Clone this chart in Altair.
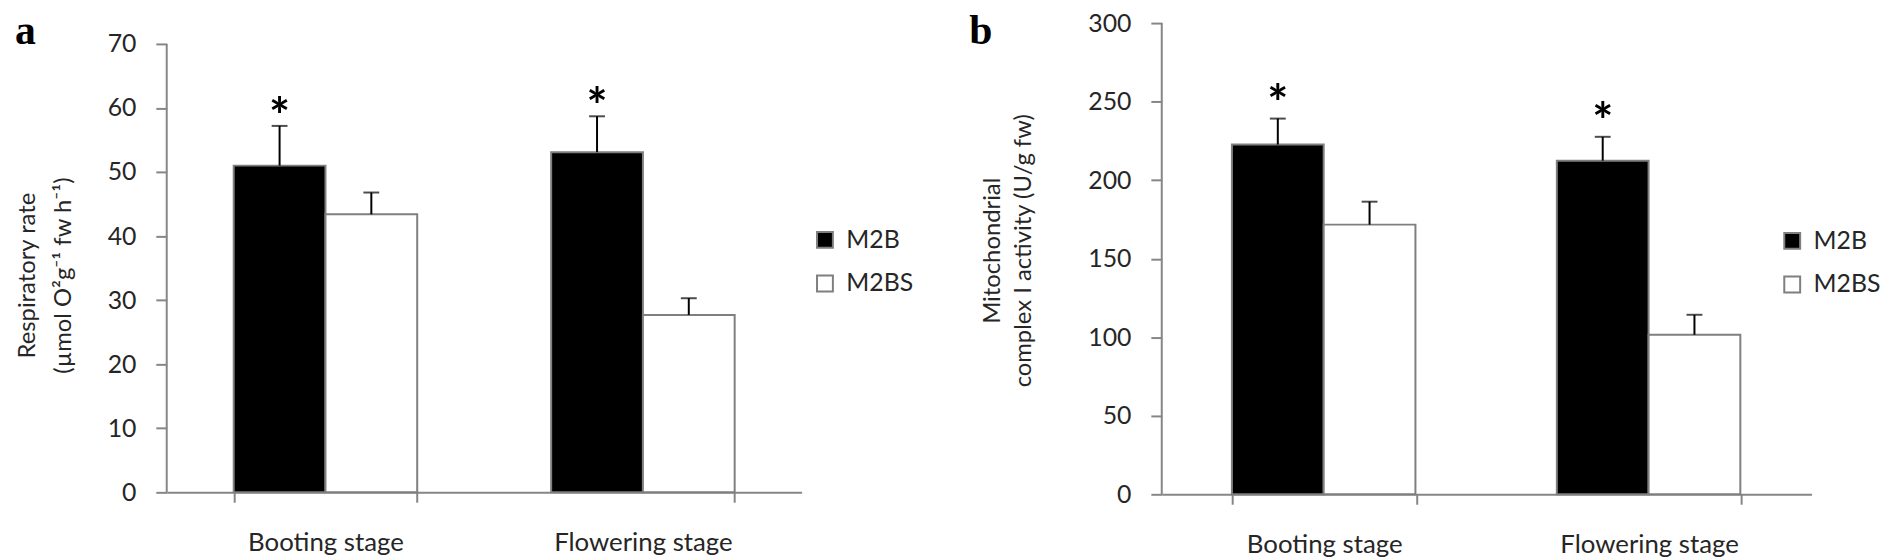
import altair as alt
import pandas as pd

# ---------------- data ----------------
stages = ["Booting stage", "Flowering stage"]
series = ["M2B", "M2BS"]
# order: Booting-M2B, Booting-M2BS, Flowering-M2B, Flowering-M2BS
resp_mean = [51.0, 43.4, 53.1, 27.7]
resp_err = [6.2, 3.4, 5.6, 2.6]
cx_mean = [222.7, 171.7, 212.4, 101.6]
cx_err = [16.5, 14.6, 15.2, 12.7]
sig = ["*", "", "*", ""]
resp_ticks = [0, 10, 20, 30, 40, 50, 60, 70]
cx_ticks = [0, 50, 100, 150, 200, 250, 300]
resp_axis_top = 70
cx_axis_top = 300
resp_title = ["Respiratory rate", "(\u00b5mol O\u00b2g\u207b\u00b9 fw h\u207b\u00b9)"]
cx_title = ["Mitochondrial", "complex I activity (U/g fw)"]
bar_colors = ["#000000", "#ffffff"]

FONT = "Lato"
GREY = "#868686"
TEXT = "#262626"
EDGE = "#7f7f7f"


def frame(means, errs):
    rows = []
    i = 0
    for st in stages:
        for se in series:
            rows.append(dict(stage=st, series=se, mean=means[i],
                             upper=means[i] + errs[i], sig=sig[i]))
            i += 1
    return pd.DataFrame(rows)


def panel(df, ymax, axis_top, ticks, ytitle, W, H, pad_inner, title_x,
          title_y, title_lh, letter, letter_x, letter_y, legend_x, legend_y,
          star_dy, b_left, b_right, b_top):
    xenc = alt.X(
        "stage:N", sort=stages,
        scale=alt.Scale(paddingInner=pad_inner, paddingOuter=pad_inner / 2),
        axis=alt.Axis(title=None, labelAngle=0, tickBand="extent",
                      domainColor=GREY, domainWidth=2, tickColor=GREY,
                      tickWidth=2, tickSize=10, labelFont=FONT,
                      labelFontSize=26, labelColor=TEXT, labelPadding=28,
                      labelLimit=1000),
    )
    xoff = alt.XOffset("series:N", sort=series,
                       scale=alt.Scale(paddingInner=0, paddingOuter=0))
    yscale = alt.Scale(domain=[0, ymax], nice=False, zero=True)
    yaxis = alt.Axis(
        values=ticks, title=ytitle, grid=False, domain=False,
        titleFont=FONT, titleFontSize=24, titleFontWeight="normal",
        titleColor=TEXT, titleLineHeight=title_lh, titleX=title_x,
        titleY=title_y, titleAngle=270, titleAlign="center",
        titleBaseline="bottom",
        labelFont=FONT, labelFontSize=25, labelColor=TEXT, labelPadding=20,
        tickSize=11, tickColor=GREY, tickWidth=2,
    )
    base = alt.Chart(df)
    bars = base.mark_bar(stroke=EDGE, strokeWidth=2).encode(
        x=xenc, xOffset=xoff,
        y=alt.Y("mean:Q", scale=yscale, axis=yaxis),
        fill=alt.Fill(
            "series:N",
            scale=alt.Scale(domain=series, range=bar_colors),
            legend=alt.Legend(
                orient="none", legendX=legend_x, legendY=legend_y, title=None,
                symbolType="square", symbolSize=256,
                symbolStrokeColor=EDGE, symbolStrokeWidth=2,
                labelFont=FONT, labelFontSize=25, labelColor=TEXT,
                labelOffset=9, rowPadding=18, padding=0,
            ),
        ),
    )
    err = base.mark_rule(color="black", strokeWidth=2).encode(
        x=xenc, xOffset=xoff,
        y=alt.Y("mean:Q", scale=yscale, axis=yaxis), y2="upper:Q",
    )
    cap = base.mark_tick(color="black", thickness=2, size=16).encode(
        x=xenc, xOffset=xoff,
        y=alt.Y("upper:Q", scale=yscale, axis=yaxis),
    )
    star = base.mark_text(font=FONT, fontSize=50, fontWeight="bold",
                          color="black", baseline="middle",
                          dy=star_dy).encode(
        x=xenc, xOffset=xoff,
        y=alt.Y("upper:Q", scale=yscale, axis=yaxis),
        text="sig:N",
    )
    one = alt.Chart(pd.DataFrame({"k": [letter]}))
    # y-axis line from 0 to the top tick
    yline = one.mark_rule(color=GREY, strokeWidth=2).encode(
        x=alt.value(0), y=alt.datum(0), y2=alt.datum(axis_top))
    lab = one.mark_text(font="Liberation Serif", fontWeight="bold",
                        fontSize=42, color="black", align="left",
                        baseline="alphabetic").encode(
        x=alt.value(letter_x), y=alt.value(letter_y), text="k:N")
    frame_rule = one.mark_rule(strokeOpacity=0, stroke="white").encode(
        x=alt.value(b_left), x2=alt.value(b_right), y=alt.value(b_top))
    return alt.layer(bars, err, cap, star, yline, lab, frame_rule).properties(
        width=W, height=H)


pa = panel(frame(resp_mean, resp_err), 73.25, resp_axis_top, resp_ticks,
           resp_title, W=640, H=473, pad_inner=0.422, title_x=-128,
           title_y=254, title_lh=36, letter="a", letter_x=-153, letter_y=21,
           legend_x=651, legend_y=206, star_dy=-7,
           b_left=-160, b_right=770, b_top=-13)
pb = panel(frame(cx_mean, cx_err), 300, cx_axis_top, cx_ticks, cx_title,
           W=655, H=475, pad_inner=0.432, title_x=-159, title_y=229,
           title_lh=32, letter="b", letter_x=-194, letter_y=21,
           legend_x=623, legend_y=207, star_dy=-13,
           b_left=-233, b_right=0, b_top=-13)

chart = (
    alt.hconcat(pa, pb, spacing=0)
    .resolve_scale(x="independent", y="independent", fill="independent")
    .resolve_legend(fill="independent")
    .properties(padding=0, background="white")
    .configure_view(stroke=None)
)
chart.save("out.html", embed_options={"renderer": "svg", "actions": False})
